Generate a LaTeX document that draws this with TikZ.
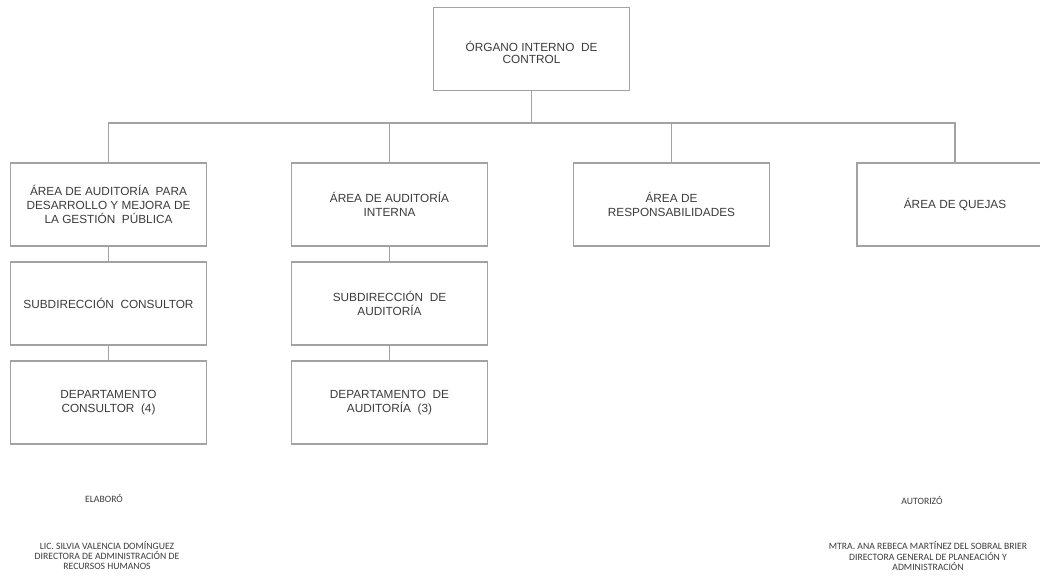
\documentclass[tikz,border=0pt]{standalone}
\usepackage{fontspec}
\setmainfont{Liberation Sans}
\newfontfamily\sigfont{Carlito}
\definecolor{linegray}{HTML}{A2A2A2}
\definecolor{textgray}{HTML}{3C3C3C}
\tikzset{
  orgbox/.style={draw=linegray, line width=1.3pt, minimum width=196pt, minimum height=83pt,
    align=center, inner sep=0pt, text=textgray,
    font=\fontsize{11.8}{14}\selectfont},
  boxlabel/.style={align=center, inner sep=0pt, text=textgray,
    font=\fontsize{11.8}{12}\selectfont},
  conn/.style={draw=linegray, line width=1.3pt},
  sigtext/.style={align=center, inner sep=0pt, text=textgray,
    font=\sigfont\fontsize{9.7}{10.3}\selectfont}
}
\begin{document}
\begin{tikzpicture}[x=1pt,y=-1pt]
\useasboundingbox (0,0) rectangle (1040,577);
\clip (0,0) rectangle (1040,577);
\fill[white] (0,0) rectangle (1040,577);

\node[orgbox] (top) at (531.5,49) {};
\node[boxlabel] (toplabel) at ([yshift=-3pt]top.center) {ÓRGANO INTERNO~ DE\\CONTROL};

\node[orgbox] (a1) at (108.5,204.5) {ÁREA DE AUDITORÍA~ PARA\\DESARROLLO Y MEJORA DE\\LA GESTIÓN~ PÚBLICA};
\node[orgbox] (a2) at (389.5,204.5) {ÁREA DE AUDITORÍA\\INTERNA};
\node[orgbox] (a3) at (671.5,204.5) {ÁREA DE\\RESPONSABILIDADES};
\node[orgbox] (a4) at (955,204.5) {ÁREA DE QUEJAS};

\node[orgbox] (s1) at (108.5,303.5) {SUBDIRECCIÓN~ CONSULTOR};
\node[orgbox] (s2) at (389.5,303.5) {SUBDIRECCIÓN~ DE\\AUDITORÍA};

\node[orgbox] (d1) at (108.5,402.5) {DEPARTAMENTO\\CONSULTOR~ (4)};
\node[orgbox] (d2) at (389.5,402.5) {DEPARTAMENTO~ DE\\AUDITORÍA~ (3)};

\coordinate (bus) at (533,123);
\draw[conn] (top.south) -- (top.south |- bus);
\draw[conn] (a1.north) |- (top.south |- bus);
\draw[conn] (a2.north) |- (top.south |- bus);
\draw[conn] (a3.north) |- (top.south |- bus);
\draw[conn] (a4.north) |- (top.south |- bus);
\draw[conn] (a1.south) -- (s1.north);
\draw[conn] (s1.south) -- (d1.north);
\draw[conn] (a2.south) -- (s2.north);
\draw[conn] (s2.south) -- (d2.north);

\node[sigtext] (elab) at (104,498) {ELABORÓ};
\node[sigtext] (elabname) at (107,555.5) {LIC. SILVIA VALENCIA DOMÍNGUEZ\\DIRECTORA DE ADMINISTRACIÓN DE\\RECURSOS HUMANOS};
\node[sigtext] (aut) at (922,500) {AUTORIZÓ};
\node[sigtext] (autname) at (928,556) {MTRA. ANA REBECA MARTÍNEZ DEL SOBRAL BRIER\\DIRECTORA GENERAL DE PLANEACIÓN Y\\ADMINISTRACIÓN};
\end{tikzpicture}
\end{document}
